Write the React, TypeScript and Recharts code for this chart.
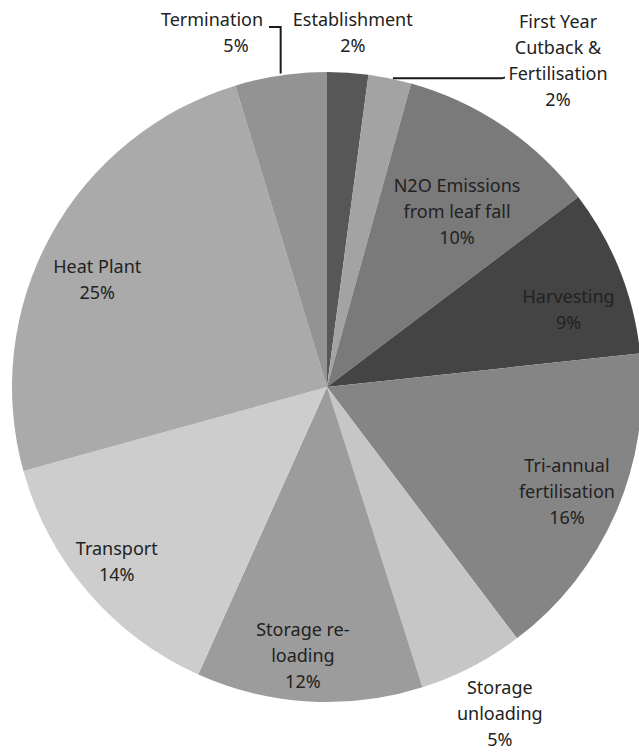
import React from "react";
import { PieChart, Pie, Cell } from "recharts";

const categories = [
  "Establishment",
  "First Year Cutback & Fertilisation",
  "N2O Emissions from leaf fall",
  "Harvesting",
  "Tri-annual fertilisation",
  "Storage unloading",
  "Storage re-loading",
  "Transport",
  "Heat Plant",
  "Termination",
];
const values = [2.1, 2.2, 10.4, 8.6, 16.4, 5.4, 11.6, 14.0, 24.6, 4.7];
const labelLines = [
  ["Establishment"],
  ["First Year", "Cutback &", "Fertilisation"],
  ["N2O Emissions", "from leaf fall"],
  ["Harvesting"],
  ["Tri-annual", "fertilisation"],
  ["Storage", "unloading"],
  ["Storage re-", "loading"],
  ["Transport"],
  ["Heat Plant"],
  ["Termination"],
];
const colors = [
  "#575757",
  "#a3a3a3",
  "#7a7a7a",
  "#444444",
  "#858585",
  "#c6c6c6",
  "#9c9c9c",
  "#cdcdcd",
  "#aaaaaa",
  "#939393",
];

const data = categories.map((name, i) => ({ name, value: values[i] }));

// label layout: radial factor and angle tweak for inside labels
const radialFactor = [0, 0, 0.695, 0.806, 0.83, 1.17, 0.854, 0.866, 0.806, 0];
const angleShift = [0, 0, -2.25, -3.7, 0, 0.6, -1.9, -1.1, 3.6, 0];
const RAD = Math.PI / 180;
const LINE_H = 26;
const FONT = "'Noto Sans', 'Open Sans', sans-serif";

const renderLabel = (props: any) => {
  const { cx, cy, midAngle, outerRadius, index, percent } = props;
  const lines = [...labelLines[index], `${Math.round(percent * 100)}%`];
  const ex = cx + outerRadius * Math.cos(-midAngle * RAD);
  const ey = cy + outerRadius * Math.sin(-midAngle * RAD);
  let xs: number[];
  let ty: number;
  let leader: string | null = null;
  if (index === 0) {
    xs = lines.map(() => ex + 5);
    ty = 32;
  } else if (index === 1) {
    xs = lines.map(() => 558);
    ty = 60;
    leader = `M${ex + 3},${ey} L502,${ey} L505,${ey - 1}`;
  } else if (index === 9) {
    xs = [212, 236];
    ty = 32;
    leader = `M${ex},${ey - 2} L${ex},27 L269,27`;
  } else {
    const a = (midAngle + angleShift[index]) * RAD;
    const r = outerRadius * radialFactor[index];
    const tx = cx + r * Math.cos(-a);
    ty = cy + r * Math.sin(-a);
    xs = lines.map(() => tx);
  }
  const top = ty - ((lines.length - 1) * LINE_H) / 2;
  return (
    <g key={`lbl-${index}`}>
      {leader && <path d={leader} stroke="#1a1a1a" strokeWidth={2} fill="none" />}
      <text
        textAnchor="middle"
        dominantBaseline="central"
        fontFamily={FONT}
        fontSize={18}
        fill="#222222"
      >
        {lines.map((l, k) => (
          <tspan key={k} x={xs[k]} y={top + k * LINE_H}>
            {l}
          </tspan>
        ))}
      </text>
    </g>
  );
};

export default function App() {
  return (
    <div style={{ position: "absolute", left: 0, top: 0, width: 639, height: 752, background: "#fff" }}>
      <PieChart width={639} height={752} margin={{ top: 0, right: 0, bottom: 0, left: 0 }}>
        <Pie
          data={data}
          dataKey="value"
          nameKey="name"
          cx={327}
          cy={387}
          outerRadius={315}
          startAngle={90}
          endAngle={-270}
          stroke="none"
          labelLine={false}
          label={renderLabel}
          isAnimationActive={false}
        >
          {data.map((d, i) => (
            <Cell key={d.name} fill={colors[i]} />
          ))}
        </Pie>
      </PieChart>
    </div>
  );
}
